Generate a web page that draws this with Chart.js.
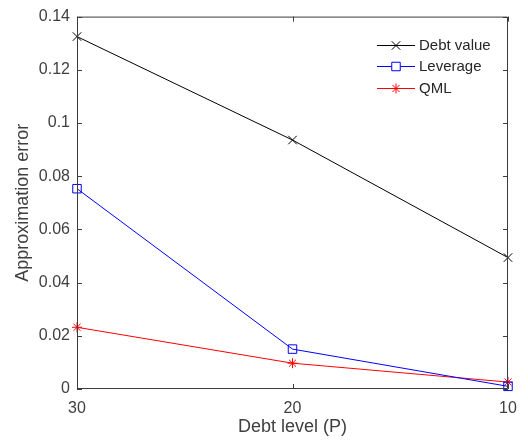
<!DOCTYPE html>
<html>
<head>
<meta charset="utf-8">
<script src="https://cdn.jsdelivr.net/npm/chart.js@4"></script>
<style>
  html, body { margin: 0; padding: 0; background: #fff; }
  #wrap { width: 528px; height: 448px; }
</style>
</head>
<body>
<div id="wrap"><canvas id="c" width="528" height="448"></canvas></div>
<script>
// datos
const niveles = ['30', '20', '10'];
const debtValue = [0.1325, 0.0936, 0.0494];
const leverage = [0.0753, 0.0150, 0.0010];
const qml = [0.0232, 0.0097, 0.0026];
const yTicks = [0, 0.02, 0.04, 0.06, 0.08, 0.1, 0.12, 0.14];

const FUENTE = '"Liberation Sans", Arial, Helvetica, sans-serif';
const EJE = '#3c3c3c';

/* caja completa + marcas hacia adentro, como en MATLAB */
const cajaMatlab = {
  id: 'cajaMatlab',
  afterDraw(chart) {
    const { ctx, chartArea: a, scales } = chart;
    ctx.save();
    ctx.strokeStyle = EJE;
    ctx.lineWidth = 1;
    ctx.beginPath();
    ctx.rect(a.left + 0.5, a.top + 0.5, a.right - a.left - 1, a.bottom - a.top - 1);
    const L = 5;
    scales.y.ticks.forEach((t, i) => {
      const py = Math.round(scales.y.getPixelForTick(i)) + 0.5;
      ctx.moveTo(a.left, py); ctx.lineTo(a.left + L, py);
      ctx.moveTo(a.right, py); ctx.lineTo(a.right - L, py);
    });
    scales.x.ticks.forEach((t, i) => {
      const px = Math.round(scales.x.getPixelForTick(i)) + 0.5;
      ctx.moveTo(px, a.bottom); ctx.lineTo(px, a.bottom - L);
      ctx.moveTo(px, a.top); ctx.lineTo(px, a.top + L);
    });
    ctx.stroke();
    ctx.restore();
  }
};

/* leyenda dentro del área, línea + marcador */
const leyenda = {
  id: 'leyenda',
  afterDatasetsDraw(chart) {
    const { ctx } = chart;
    const x0 = 377, x1 = 415, xt = 419;
    const filas = [45, 66, 88];
    ctx.save();
    chart.data.datasets.forEach((ds, i) => {
      const y = filas[i];
      ctx.strokeStyle = ds.borderColor;
      ctx.lineWidth = 1;
      ctx.beginPath();
      ctx.moveTo(x0, y + 0.5); ctx.lineTo(x1, y + 0.5);
      ctx.stroke();
      ctx.fillStyle = '#ffffff';
      Chart.helpers.drawPoint(ctx, {
        pointStyle: ds.pointStyle, radius: ds.pointRadius, borderWidth: 1
      }, (x0 + x1) / 2, y + 0.5);
      ctx.fillStyle = '#262626';
      ctx.font = '15px ' + FUENTE;
      ctx.textBaseline = 'middle';
      ctx.fillText(ds.label, xt, y + 1);
    });
    ctx.restore();
  }
};

const serie = (label, data, color, estilo, r) => ({
  label, data,
  borderColor: color, backgroundColor: 'rgba(0,0,0,0)',
  pointBorderColor: color, pointBackgroundColor: 'rgba(0,0,0,0)',
  borderWidth: 1, pointBorderWidth: 1,
  pointStyle: estilo, pointRadius: r, pointHoverRadius: r,
  tension: 0, clip: false
});

new Chart(document.getElementById('c'), {
  type: 'line',
  data: {
    labels: niveles,
    datasets: [
      serie('Debt value', debtValue, '#000000', 'crossRot', 6),
      serie('Leverage', leverage, '#0000ff', 'rect', 6),
      serie('QML', qml, '#ff0000', 'star', 5)
    ]
  },
  options: {
    responsive: false,
    animation: false,
    events: [],
    layout: { padding: { top: 15, right: 20, left: 0, bottom: 0 } },
    plugins: { legend: { display: false }, tooltip: { enabled: false } },
    scales: {
      x: {
        type: 'category',
        offset: false,
        grid: { display: false, drawTicks: false },
        border: { display: false },
        ticks: { color: '#404040', font: { family: FUENTE, size: 16 }, padding: 10, maxRotation: 0 },
        title: { display: true, text: 'Debt level (P)', color: '#404040', font: { family: FUENTE, size: 18 }, padding: { top: 0, bottom: 10 } },
        afterFit(s) { s.height = 59; }
      },
      y: {
        min: 0, max: 0.14,
        afterBuildTicks(s) { s.ticks = yTicks.map(v => ({ value: v })); },
        grid: { display: false, drawTicks: false },
        border: { display: false },
        ticks: {
          color: '#404040', font: { family: FUENTE, size: 16 }, padding: 7,
          callback: v => String(+v.toFixed(2))
        },
        title: { display: true, text: 'Approximation error', color: '#404040', font: { family: FUENTE, size: 18 }, padding: { top: 12, bottom: 0 } },
        afterFit(s) { s.width = 77; }
      }
    }
  },
  plugins: [cajaMatlab, leyenda]
});
</script>
</body>
</html>
